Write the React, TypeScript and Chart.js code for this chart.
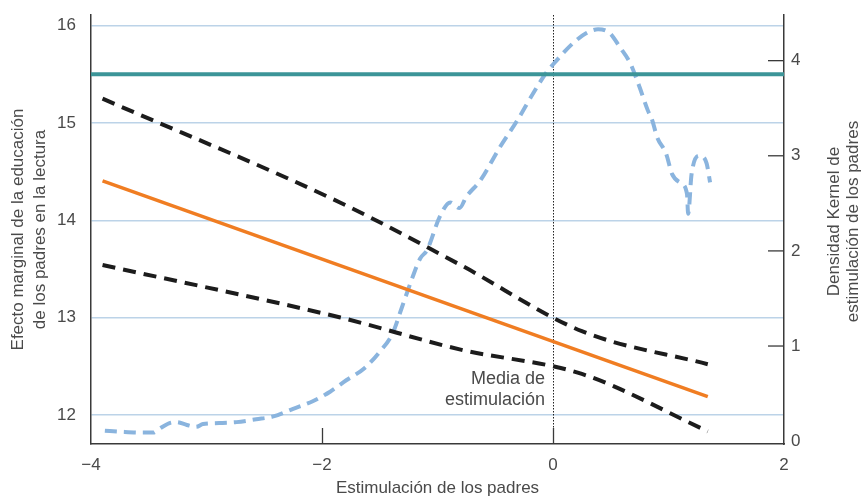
import React, { useEffect, useRef } from 'react';
import { Chart, registerables } from 'chart.js';

Chart.register(...registerables);

// ---- data ----
const xTicks = [-4, -2, 0, 2];
const yTicks = [12, 13, 14, 15, 16];
const densityTicks = [0, 1, 2, 3, 4];

const densityX = [
  -3.88, -3.75, -3.55, -3.46, -3.42, -3.32, -3.26, -3.17, -3.09, -3.03,
  -2.89, -2.74, -2.57, -2.42, -2.25, -2.08, -1.93, -1.79, -1.63, -1.5,
  -1.39, -1.31, -1.22, -1.15, -1.09, -0.98, -0.89, -0.81, -0.75, -0.63,
  -0.46, -0.31, -0.17, -0.06, 0.03, 0.17, 0.29, 0.39, 0.49, 0.58,
  0.67, 0.75, 0.82, 0.86, 0.9, 0.98, 1.03, 1.11, 1.16, 1.17,
  1.2, 1.27, 1.33, 1.36,
];
const densityY = [
  0.11, 0.1, 0.09, 0.09, 0.12, 0.19, 0.2, 0.17, 0.15, 0.18,
  0.19, 0.2, 0.23, 0.26, 0.34, 0.42, 0.52, 0.64, 0.77, 0.94,
  1.13, 1.4, 1.71, 1.92, 2.01, 2.36, 2.51, 2.45, 2.57, 2.74,
  3.09, 3.37, 3.66, 3.87, 4.0, 4.18, 4.29, 4.33, 4.29, 4.14,
  3.97, 3.72, 3.48, 3.37, 3.2, 3.02, 2.81, 2.71, 2.6, 2.39,
  2.81, 3.0, 2.92, 2.72,
];

const fitX = [-3.9, 1.34];
const fitY = [14.405, 12.186];

const bandX = [-3.9, -1.84, -0.8, 0.25, 1.34];
const upperY = [15.25, 14.18, 13.54, 12.86, 12.52];
const lowerY = [13.54, 13.0, 12.67, 12.42, 11.83];

const refX = [-4, 2];
const refY = [15.5, 15.5];

const meanStim = 0;
const meanLabel = ['Media de', 'estimulación'];

const xTitle = 'Estimulación de los padres';
const yTitle = ['Efecto marginal de la educación', 'de los padres en la lectura'];
const y2Title = ['Densidad Kernel de', 'estimulación de los padres'];

// ---- styles ----
const FONT = "'Liberation Sans', Arial, Helvetica, sans-serif";
const TEXT = '#4a4a4a';
const AXIS = '#3a3a3a';
const GRID = '#bcd3e8';
const FS = 17;

const pts = (xs: number[], ys: number[]) => xs.map((x, i) => ({ x, y: ys[i] }));
const fmt = (v: number | string) => String(v).replace('-', '\u2212');

const overlay = {
  id: 'overlay',
  beforeDatasetsDraw(chart: any) {
    const { ctx, chartArea, scales } = chart;
    const x0 = scales.x.getPixelForValue(meanStim);
    ctx.save();
    ctx.strokeStyle = '#222';
    ctx.lineWidth = 1;
    ctx.setLineDash([1.5, 1.5]);
    ctx.beginPath();
    ctx.moveTo(x0 + 0.5, chartArea.top);
    ctx.lineTo(x0 + 0.5, chartArea.bottom - 16);
    ctx.stroke();
    ctx.restore();
  },
  afterDraw(chart: any) {
    const { ctx, chartArea, scales } = chart;
    ctx.save();
    ctx.strokeStyle = AXIS;
    ctx.lineWidth = 1.3;
    ctx.setLineDash([]);
    [1, 2, 3, 4].forEach((v) => {
      const y = scales.y2.getPixelForValue(v);
      ctx.beginPath();
      ctx.moveTo(chartArea.right - 16, y);
      ctx.lineTo(chartArea.right, y);
      ctx.stroke();
    });
    [-2, 0].forEach((v) => {
      const x = scales.x.getPixelForValue(v);
      ctx.beginPath();
      ctx.moveTo(x + 0.5, chartArea.bottom - 16);
      ctx.lineTo(x + 0.5, chartArea.bottom);
      ctx.stroke();
    });
    ctx.fillStyle = TEXT;
    ctx.font = `${FS + 1}px ${FONT}`;
    ctx.textAlign = 'right';
    ctx.textBaseline = 'middle';
    const x0 = scales.x.getPixelForValue(meanStim);
    const yA = scales.y.getPixelForValue(12.37);
    ctx.fillText(meanLabel[0], x0 - 8, yA);
    ctx.fillText(meanLabel[1], x0 - 8, yA + 21);
    ctx.font = `${FS}px ${FONT}`;
    ctx.textAlign = 'center';
    ctx.translate(chartArea.right + 50, (chartArea.top + chartArea.bottom) / 2 - 8);
    ctx.rotate(-Math.PI / 2);
    ctx.fillText(y2Title[0], 0, 0);
    ctx.fillText(y2Title[1], 0, 19);
    ctx.restore();
  },
};

export default function App() {
  const ref = useRef<HTMLCanvasElement>(null);
  useEffect(() => {
    if (!ref.current) return;
    const chart = new Chart(ref.current, {
      type: 'line',
      data: {
        datasets: [
          {
            label: 'Efecto marginal',
            data: pts(fitX, fitY),
            borderColor: '#f07d22',
            borderWidth: 3.5,
            pointRadius: 0,
            yAxisID: 'y',
            order: 1,
          },
          {
            label: 'IC superior',
            data: pts(bandX, upperY),
            borderColor: '#1c1c1c',
            borderWidth: 4,
            borderDash: [13, 8],
            pointRadius: 0,
            yAxisID: 'y',
            cubicInterpolationMode: 'monotone',
            order: 2,
          },
          {
            label: 'IC inferior',
            data: pts(bandX, lowerY),
            borderColor: '#1c1c1c',
            borderWidth: 4,
            borderDash: [13, 8],
            pointRadius: 0,
            yAxisID: 'y',
            cubicInterpolationMode: 'monotone',
            order: 2,
          },
          {
            label: 'Referencia',
            data: pts(refX, refY),
            borderColor: '#3c9598',
            borderWidth: 4,
            pointRadius: 0,
            yAxisID: 'y',
            order: 3,
          },
          {
            label: 'Densidad',
            data: pts(densityX, densityY),
            borderColor: '#8ab4de',
            borderWidth: 4,
            borderDash: [12, 7],
            pointRadius: 0,
            yAxisID: 'y2',
            cubicInterpolationMode: 'monotone',
            order: 5,
          },
        ],
      },
      options: {
        animation: false,
        responsive: false,
        devicePixelRatio: 1,
        layout: { padding: { top: 15, left: 0, right: 0, bottom: 0 } },
        plugins: { legend: { display: false }, tooltip: { enabled: false } },
        scales: {
          x: {
            type: 'linear',
            position: 'bottom',
            min: -4,
            max: 2,
            afterBuildTicks: (s: any) => {
              s.ticks = xTicks.map((v) => ({ value: v }));
            },
            afterFit: (s: any) => {
              s.height = 53;
              s.paddingLeft = 0;
              s.paddingRight = 0;
            },
            grid: { display: false, drawTicks: false },
            border: { display: true, color: AXIS, width: 1.5 },
            ticks: { padding: 11, color: TEXT, font: { family: FONT, size: FS }, callback: (v: any) => fmt(v) },
            title: {
              display: true,
              text: xTitle,
              color: TEXT,
              font: { family: FONT, size: FS, lineHeight: 1 },
              padding: { top: 0, bottom: 0 },
            },
          },
          y: {
            type: 'linear',
            position: 'left',
            min: 11.7,
            max: 16.11,
            afterBuildTicks: (s: any) => {
              s.ticks = yTicks.map((v) => ({ value: v }));
            },
            afterFit: (s: any) => {
              s.width = 91;
              s.paddingTop = 0;
              s.paddingBottom = 0;
            },
            grid: { display: true, color: GRID, lineWidth: 1.5, drawTicks: false },
            border: { display: true, color: AXIS, width: 1.5 },
            ticks: { padding: 15, color: TEXT, font: { family: FONT, size: FS } },
            title: {
              display: true,
              text: yTitle,
              color: TEXT,
              font: { family: FONT, size: FS, lineHeight: 22 / FS },
              padding: { top: 7, bottom: 0 },
            },
          },
          y2: {
            type: 'linear',
            position: 'right',
            min: -0.03,
            max: 4.48,
            afterBuildTicks: (s: any) => {
              s.ticks = densityTicks.map((v) => ({ value: v }));
            },
            afterFit: (s: any) => {
              s.width = 80;
              s.paddingTop = 0;
              s.paddingBottom = 0;
            },
            grid: { display: true, drawOnChartArea: false, drawTicks: false },
            border: { display: true, color: AXIS, width: 1.5 },
            ticks: { padding: 7, color: TEXT, font: { family: FONT, size: FS } },
          },
        },
      },
      plugins: [overlay],
    } as any);
    return () => chart.destroy();
  }, []);
  return (
    <div style={{ position: 'fixed', left: 0, top: 0, width: 864, height: 497, background: '#fff' }}>
      <canvas ref={ref} width={864} height={497} style={{ display: 'block', width: 864, height: 497 }} />
    </div>
  );
}
